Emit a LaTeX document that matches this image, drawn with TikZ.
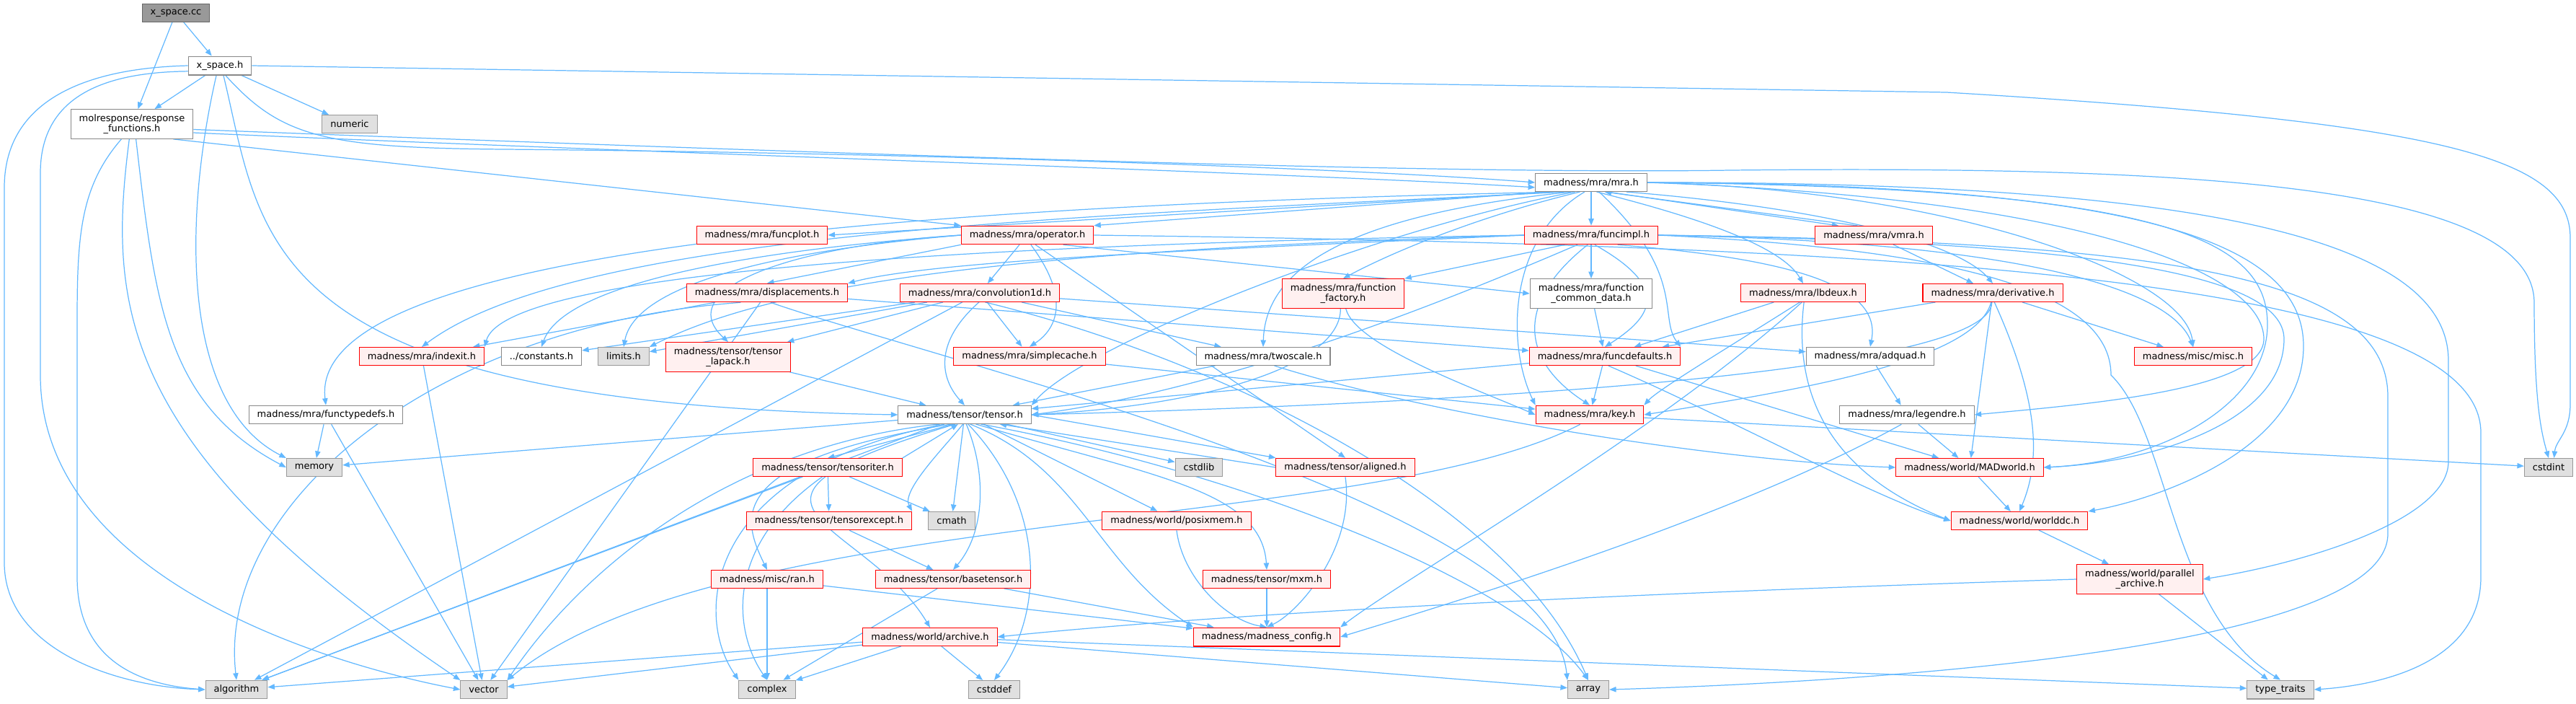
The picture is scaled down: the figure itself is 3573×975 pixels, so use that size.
\documentclass[tikz,border=0pt]{standalone}
\usepackage{fontspec}
\setmainfont{DejaVu Sans}
\usetikzlibrary{arrows.meta,backgrounds}

\definecolor{edgeblue}{HTML}{63B8FF}
\definecolor{truncfill}{HTML}{FFF0F0}
\definecolor{sysfill}{HTML}{E0E0E0}
\definecolor{sysdraw}{HTML}{999999}
\definecolor{hdrdraw}{HTML}{888888}
\definecolor{rootfill}{HTML}{999999}
\definecolor{rootdraw}{HTML}{666666}

\tikzset{
  file/.style={draw, rectangle, line width=0.6pt, inner xsep=0.23cm, inner ysep=0.13cm,
    minimum height=0.5cm, align=center, text=black,
    font=\fontsize{7.4pt}{8.4pt}\selectfont},
  root/.style={file, draw=rootdraw, fill=rootfill},
  hdr/.style={file, draw=hdrdraw, fill=white},
  sys/.style={file, draw=sysdraw, fill=sysfill},
  trunc/.style={file, draw=red, fill=truncfill},
  dep/.style={draw=edgeblue, line width=0.7pt, -{Triangle[length=5.4pt,width=4.2pt]}}
}

\begin{document}
\begin{tikzpicture}[x=0.02cm, y=-0.02cm]
  \useasboundingbox (0,0) rectangle (3573,975);

  % files, row by row
  \node[root] (xcc) at (244,18) {x\_space.cc};
  \node[hdr] (xh) at (305,91) {x\_space.h};
  \node[hdr] (resp) at (183,172) {molresponse/response\\\_functions.h};
  \node[sys] (numeric) at (485,172) {numeric};
  \node[hdr] (mra) at (2207,253) {madness/mra/mra.h};
  \node[trunc] (funcplot) at (1057,326) {madness/mra/funcplot.h};
  \node[trunc] (operator) at (1425,326) {madness/mra/operator.h};
  \node[trunc] (funcimpl) at (2207,326) {madness/mra/funcimpl.h};
  \node[trunc] (vmra) at (2599,326) {madness/mra/vmra.h};
  \node[trunc] (displ) at (1064,406) {madness/mra/displacements.h};
  \node[trunc] (conv) at (1359,406) {madness/mra/convolution1d.h};
  \node[trunc] (ffact) at (1863,407) {madness/mra/function\\\_factory.h};
  \node[hdr] (fcommon) at (2207,407) {madness/mra/function\\\_common\_data.h};
  \node[trunc] (lbdeux) at (2501,406) {madness/mra/lbdeux.h};
  \node[trunc] (deriv) at (2764,406) {madness/mra/derivative.h};
  \node[trunc] (indexit) at (585,494) {madness/mra/indexit.h};
  \node[hdr] (constants) at (751,494) {../constants.h};
  \node[sys] (limits) at (865,494) {limits.h};
  \node[trunc] (lapack) at (1010,495) {madness/tensor/tensor\\\_lapack.h};
  \node[trunc] (simplecache) at (1428,494) {madness/mra/simplecache.h};
  \node[hdr] (twoscale) at (1752,494) {madness/mra/twoscale.h};
  \node[trunc] (funcdefaults) at (2226,494) {madness/mra/funcdefaults.h};
  \node[hdr] (adquad) at (2594,494) {madness/mra/adquad.h};
  \node[trunc] (misc) at (3042,494) {madness/misc/misc.h};
  \node[hdr] (functypedefs) at (452,575) {madness/mra/functypedefs.h};
  \node[hdr] (tensor) at (1338,575) {madness/tensor/tensor.h};
  \node[trunc] (key) at (2205,575) {madness/mra/key.h};
  \node[hdr] (legendre) at (2645,575) {madness/mra/legendre.h};
  \node[sys] (memory) at (436,648) {memory};
  \node[trunc] (tensoriter) at (1148,648) {madness/tensor/tensoriter.h};
  \node[sys] (cstdlib) at (1663,648) {cstdlib};
  \node[trunc] (aligned) at (1866,648) {madness/tensor/aligned.h};
  \node[trunc] (madworld) at (2732,648) {madness/world/MADworld.h};
  \node[sys] (cstdint) at (3535,648) {cstdint};
  \node[trunc] (texcept) at (1150,722) {madness/tensor/tensorexcept.h};
  \node[sys] (cmath) at (1320,722) {cmath};
  \node[trunc] (posixmem) at (1632,722) {madness/world/posixmem.h};
  \node[trunc] (worlddc) at (2801,722) {madness/world/worlddc.h};
  \node[trunc] (ran) at (1064,803) {madness/misc/ran.h};
  \node[trunc] (basetensor) at (1322,803) {madness/tensor/basetensor.h};
  \node[trunc] (mxm) at (1757,803) {madness/tensor/mxm.h};
  \node[trunc] (parallel) at (2968,803) {madness/world/parallel\\\_archive.h};
  \node[trunc] (archive) at (1290,883) {madness/world/archive.h};
  \node[trunc] (config) at (1757,883) {madness/madness\_config.h};
  \node[sys] (algorithm) at (328,956) {algorithm};
  \node[sys] (vector) at (671,956) {vector};
  \node[sys] (complex) at (1064,956) {complex};
  \node[sys] (cstddef) at (1379,956) {cstddef};
  \node[sys] (array) at (2203,956) {array};
  \node[sys] (typetraits) at (3163,956) {type\_traits};

  \begin{scope}[on background layer]
  % x_space.cc and x_space.h
  \draw[dep] (xcc) -- (xh);
  \draw[dep] (xcc) -- (resp);
  \draw[dep] (xh) -- (resp);
  \draw[dep] (xh) -- (numeric);
  \draw[dep] (xh.250) .. controls (255,300) and (250,560) .. (memory.north west);
  \draw[dep] (xh.west) .. controls (100,95) and (6,150) .. (6,260) -- (6,780) .. controls (6,900) and (160,952) .. (algorithm.west);
  \draw[dep] (xh.190) .. controls (150,100) and (56,130) .. (56,240) -- (56,520) .. controls (56,800) and (450,920) .. (vector.west);
  \draw[dep] (xh.290) .. controls (365,330) and (350,560) .. (tensor.west);
  \draw[dep] (xh.300) .. controls (390,190) and (450,205) .. (700,207) .. controls (1300,212) and (1900,235) .. (mra.west);
  \draw[dep] (xh.east) -- (2700,128) .. controls (3400,170) and (3565,220) .. (3565,330) -- (3565,560) .. controls (3565,600) and (3545,610) .. (cstdint.60);

  % response_functions.h
  \draw[dep] (resp.352) .. controls (900,212) and (1800,240) .. (mra.185);
  \draw[dep] (resp.340) -- (operator.north west);
  \draw[dep] (resp.355) .. controls (1200,215) and (2000,242) .. (2400,236) .. controls (3000,230) and (3515,250) .. (3515,420) .. controls (3515,560) and (3525,600) .. (cstdint.north);
  \draw[dep] (resp.235) .. controls (110,260) and (107,330) .. (107,450) -- (107,800) .. controls (107,920) and (200,950) .. (algorithm.west);
  \draw[dep] (resp.260) .. controls (150,420) and (160,620) .. (vector.north west);
  \draw[dep] (resp.285) .. controls (215,420) and (230,560) .. (memory.west);

  % mra.h
  \draw[dep] (mra) -- (funcimpl);
  \draw[dep] (mra.195) -- (funcplot.east);
  \draw[dep] (mra.192) -- (operator.north east);
  \draw[dep] (mra.200) .. controls (1500,300) and (800,320) .. (indexit.north);
  \draw[dep] (mra.198) .. controls (1000,290) and (430,380) .. (functypedefs.north);
  \draw[dep] (mra.220) .. controls (2050,300) and (1930,350) .. (ffact.north);
  \draw[dep] (mra.300) .. controls (2350,300) and (2470,340) .. (lbdeux.north);
  \draw[dep] (mra.330) -- (vmra.165);
  \draw[dep] (vmra.150) -- (mra.325);
  \draw[dep] (mra.345) .. controls (2550,290) and (2720,340) .. (deriv.north);
  \draw[dep] (mra.east) .. controls (2700,262) and (3030,380) .. (misc.north);
  \draw[dep] (mra.east) .. controls (3000,260) and (3145,330) .. (3145,450) .. controls (3145,560) and (3000,640) .. (madworld.east);
  \draw[dep] (mra.east) .. controls (2950,255) and (3195,330) .. (3195,480) .. controls (3195,620) and (3000,690) .. (worlddc.north east);
  \draw[dep] (mra.east) .. controls (3050,252) and (3396,330) .. (3396,500) -- (3396,640) .. controls (3396,720) and (3200,780) .. (parallel.east);
  \draw[dep] (mra.east) .. controls (2900,275) and (3140,380) .. (3140,470) .. controls (3140,540) and (2900,560) .. (legendre.east);
  \draw[dep] (mra.210) .. controls (1900,320) and (1500,480) .. (tensor.north east);
  \draw[dep] (mra.235) .. controls (2090,330) and (2090,480) .. (key.north west);
  \draw[dep] (mra.310) .. controls (2340,380) and (2300,440) .. (funcdefaults.north east);
  \draw[dep] (mra.205) .. controls (1850,300) and (1755,380) .. (twoscale.north);

  % funcimpl.h
  \draw[dep] (funcimpl) -- (fcommon);
  \draw[dep] (funcimpl.200) -- (ffact.north east);
  \draw[dep] (funcimpl.west) .. controls (1700,345) and (1300,360) .. (displ.north east);
  \draw[dep] (funcimpl.west) .. controls (1300,340) and (700,380) .. (indexit.north east);
  \draw[dep] (funcimpl.west) .. controls (1500,345) and (1100,380) .. (limits.north east);
  \draw[dep] (funcimpl.250) .. controls (2100,420) and (2110,500) .. (key.north);
  \draw[dep] (funcimpl.290) .. controls (2320,400) and (2290,440) .. (funcdefaults.north);
  \draw[dep] (funcimpl.215) .. controls (2000,420) and (1700,540) .. (tensor.east);
  \draw[dep] (funcimpl.east) .. controls (2800,335) and (3010,400) .. (misc.north);
  \draw[dep] (funcimpl.east) .. controls (2900,335) and (3168,380) .. (3168,470) .. controls (3168,580) and (3000,640) .. (madworld.east);
  \draw[dep] (funcimpl.east) .. controls (3000,335) and (3312,380) .. (3312,550) -- (3312,740) .. controls (3312,900) and (2600,945) .. (array.east);
  \draw[dep] (funcimpl.east) .. controls (2700,345) and (2928,400) .. (2928,520) .. controls (3010,600) and (3010,850) .. (typetraits.north);
  \draw[dep] (funcimpl.340) .. controls (2500,360) and (2610,400) .. (adquad.north);

  % operator.h
  \draw[dep] (operator.south west) -- (displ.north);
  \draw[dep] (operator) -- (conv);
  \draw[dep] (operator.290) .. controls (1490,420) and (1460,460) .. (simplecache.north);
  \draw[dep] (operator.310) -- (aligned.north);
  \draw[dep] (operator.west) .. controls (1100,340) and (930,400) .. (lapack.north);
  \draw[dep] (operator.west) .. controls (1000,350) and (780,400) .. (constants.north);
  \draw[dep] (operator.west) .. controls (1050,350) and (880,400) .. (limits.north);
  \draw[dep] (operator.345) -- (fcommon.west);
  \draw[dep] (operator.east) .. controls (2600,340) and (3441,380) .. (3441,600) -- (3441,800) .. controls (3441,920) and (3300,950) .. (typetraits.east);

  % convolution1d.h and displacements.h
  \draw[dep] (conv.265) .. controls (1300,470) and (1300,520) .. (tensor.north);
  \draw[dep] (conv) -- (simplecache);
  \draw[dep] (conv) -- (twoscale);
  \draw[dep] (conv) -- (lapack);
  \draw[dep] (conv) -- (constants);
  \draw[dep] (conv) -- (limits);
  \draw[dep] (conv) -- (algorithm);
  \draw[dep] (conv) -- (adquad);
  \draw[dep] (conv.300) .. controls (1700,500) and (2100,700) .. (array.north);
  \draw[dep] (displ) -- (indexit);
  \draw[dep] (displ.200) .. controls (600,450) and (300,700) .. (algorithm.north);
  \draw[dep] (displ) -- (vector);
  \draw[dep] (displ.290) .. controls (1300,500) and (2150,700) .. (array.north west);
  \draw[dep] (displ) -- (funcdefaults);

  % the other mra headers
  \draw[dep] (ffact.280) .. controls (1880,480) and (2050,540) .. (key.west);
  \draw[dep] (ffact.260) .. controls (1860,500) and (1700,560) .. (tensor.east);
  \draw[dep] (fcommon) -- (funcdefaults);
  \draw[dep] (lbdeux) -- (funcdefaults);
  \draw[dep] (lbdeux.250) .. controls (2400,480) and (2300,540) .. (key.north east);
  \draw[dep] (lbdeux.275) .. controls (2480,600) and (2600,680) .. (worlddc.west);
  \draw[dep] (lbdeux.262) .. controls (2300,600) and (1950,800) .. (config.north east);
  \draw[dep] (vmra) -- (deriv);
  \draw[dep] (deriv) -- (funcdefaults);
  \draw[dep] (deriv.260) .. controls (2740,500) and (2500,540) .. (key.east);
  \draw[dep] (deriv.265) .. controls (2760,520) and (2000,560) .. (tensor.east);
  \draw[dep] (deriv) -- (madworld);
  \draw[dep] (deriv.280) .. controls (2830,560) and (2830,640) .. (worlddc.north);
  \draw[dep] (deriv) -- (misc);
  \draw[dep] (twoscale) -- (tensor);
  \draw[dep] (twoscale.320) .. controls (2000,580) and (2400,640) .. (madworld.west);
  \draw[dep] (funcdefaults) -- (key);
  \draw[dep] (funcdefaults) -- (tensor);
  \draw[dep] (funcdefaults) -- (madworld);
  \draw[dep] (funcdefaults.290) .. controls (2400,580) and (2600,690) .. (worlddc.west);
  \draw[dep] (simplecache) -- (key);
  \draw[dep] (key) -- (cstdint);
  \draw[dep] (key.225) .. controls (1900,740) and (1000,700) .. (vector.north east);
  \draw[dep] (legendre) -- (madworld);
  \draw[dep] (legendre.240) .. controls (2400,720) and (2000,840) .. (config.east);
  \draw[dep] (adquad) -- (legendre);
  \draw[dep] (indexit) -- (vector);
  \draw[dep] (functypedefs) -- (memory);
  \draw[dep] (functypedefs) -- (vector);
  \draw[dep] (lapack) -- (tensor);

  % world headers
  \draw[dep] (madworld) -- (worlddc);
  \draw[dep] (worlddc) -- (parallel);
  \draw[dep] (parallel.west) .. controls (2500,815) and (1800,840) .. (archive.east);
  \draw[dep] (parallel) -- (typetraits);

  % tensor.h
  \draw[dep] (tensor.220) -- (tensoriter.north);
  \draw[dep] (tensoriter.north east) -- (tensor.235);
  \draw[dep] (tensor.260) .. controls (1310,620) and (1250,680) .. (texcept.north east);
  \draw[dep] (tensor) -- (cmath);
  \draw[dep] (tensor.280) .. controls (1370,660) and (1365,740) .. (basetensor.north);
  \draw[dep] (tensor.290) .. controls (1450,700) and (1450,850) .. (cstddef.north);
  \draw[dep] (tensor) -- (posixmem);
  \draw[dep] (tensor.300) .. controls (1500,650) and (1520,780) .. (config.north west);
  \draw[dep] (tensor.320) .. controls (1600,660) and (1750,680) .. (mxm.north);
  \draw[dep] (tensor) -- (cstdlib);
  \draw[dep] (tensor.east) -- (aligned.north west);
  \draw[dep] (aligned.west) -- (tensor.345);
  \draw[dep] (tensor.215) .. controls (1000,640) and (1030,720) .. (ran.north);
  \draw[dep] (tensor.225) .. controls (950,700) and (1200,720) .. (archive.north);
  \draw[dep] (tensor) -- (memory);
  \draw[dep] (tensor) -- (algorithm);
  \draw[dep] (tensor.200) .. controls (1000,620) and (800,800) .. (vector.north east);
  \draw[dep] (tensor.205) .. controls (980,650) and (960,850) .. (complex.north west);
  \draw[dep] (tensor.330) .. controls (1700,650) and (2100,800) .. (array.north);

  % tensor helpers
  \draw[dep] (tensoriter) -- (texcept);
  \draw[dep] (tensoriter) -- (cmath);
  \draw[dep] (tensoriter.240) .. controls (1000,760) and (1020,880) .. (complex.north);
  \draw[dep] (tensoriter) -- (algorithm);
  \draw[dep] (aligned.270) .. controls (1880,760) and (1800,850) .. (config.north);
  \draw[dep] (texcept) -- (basetensor);
  \draw[dep] (basetensor) -- (config);
  \draw[dep] (basetensor) -- (complex);
  \draw[dep] (ran) -- (complex);
  \draw[dep] (ran) -- (config);
  \draw[dep] (posixmem.270) .. controls (1640,800) and (1700,860) .. (config.north);
  \draw[dep] (mxm) -- (config);
  \draw[dep] (archive) -- (algorithm);
  \draw[dep] (archive) -- (vector);
  \draw[dep] (archive) -- (complex);
  \draw[dep] (archive) -- (cstddef);
  \draw[dep] (archive) -- (array);
  \draw[dep] (archive) -- (typetraits);
  \end{scope}
\end{tikzpicture}
\end{document}
